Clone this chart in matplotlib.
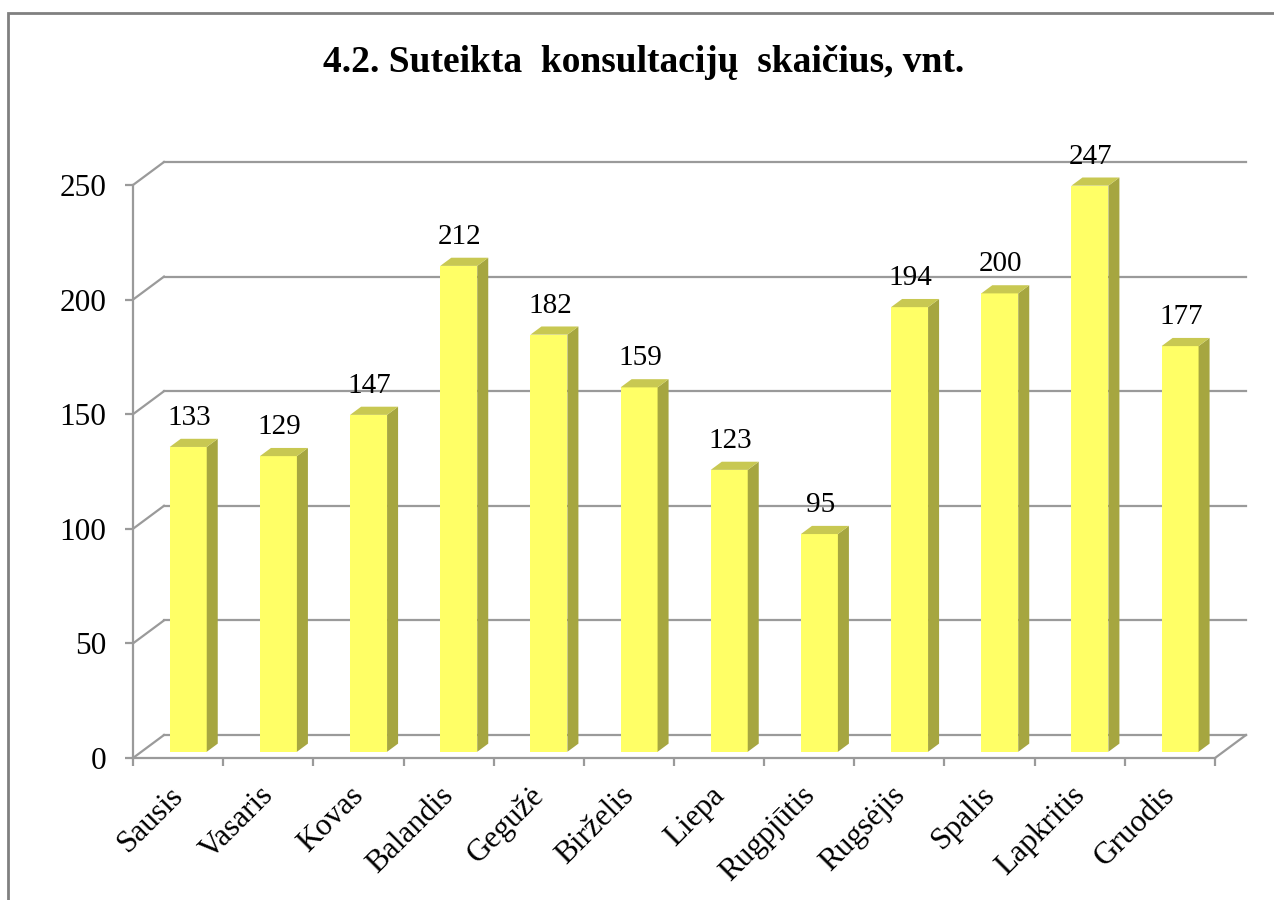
import matplotlib
matplotlib.use('Agg')
import matplotlib.pyplot as plt
from matplotlib.patches import Polygon, Rectangle

# ---- data ----
months = ["Sausis", "Vasaris", "Kovas", "Balandis", "Gegužė", "Birželis",
          "Liepa", "Rugpjūtis", "Rugsėjis", "Spalis", "Lapkritis", "Gruodis"]
values = [133, 129, 147, 212, 182, 159, 123, 95, 194, 200, 247, 177]
yticks = [0, 50, 100, 150, 200, 250]
title = "4.2. Suteikta  konsultacijų  skaičius, vnt."

# ---- styling / geometry ----
W, H = 1274, 900
SERIF = ['Liberation Serif', 'DejaVu Serif']
GRID = '#9a9a9a'
FRONT = '#FFFF66'
SIDE = '#A6A640'
TOP = '#C8C852'

n = len(months)
ymax = yticks[-1]
px_x = 1082 / n          # px per category
px_y = 573 / ymax        # px per value unit
DX = 31 / px_x           # depth offset of the whole chart (category units)
DY = 23 / px_y           # depth offset (value units)
f0 = 0.27                # bar front depth fraction
dd = 0.355               # bar depth fraction
bw = 0.41                # bar width

fig = plt.figure(figsize=(W / 100, H / 100), dpi=100)
fig.patch.set_facecolor('white')
ax = fig.add_axes([133 / W, (H - 758) / H, 1082 / W, 573 / H])
ax.set_xlim(0, n)
ax.set_ylim(0, ymax)
ax.set_facecolor('none')

for s in ['top', 'right']:
    ax.spines[s].set_visible(False)
for s in ['left', 'bottom']:
    ax.spines[s].set_color(GRID)
    ax.spines[s].set_linewidth(1.6)

ax.set_yticks(yticks)
ax.set_yticklabels([str(v) for v in yticks], fontsize=22.5, family=SERIF)
ax.set_xticks(range(n + 1))
ax.set_xticklabels([])
ax.tick_params(axis='both', direction='out', length=6, width=1.6, color=GRID)
ax.tick_params(axis='y', pad=13)

# back wall gridlines, left wall diagonals, floor side
for v in yticks:
    ax.plot([DX, n + DX], [v + DY, v + DY], color=GRID, lw=1.6, clip_on=False, zorder=1)
    ax.plot([0, DX], [v, v + DY], color=GRID, lw=1.6, clip_on=False, zorder=1)
ax.plot([n, n + DX], [0, DY], color=GRID, lw=1.6, clip_on=False, zorder=1)

# bars
base = f0 * DY
centers = [i + 0.5 + f0 * DX + 0.02 for i in range(n)]
ax.bar(centers, values, width=bw, bottom=base, color=FRONT, edgecolor='none',
       zorder=3, clip_on=False)
ddx, ddy = dd * DX, dd * DY
for c, v in zip(centers, values):
    xl, xr = c - bw / 2, c + bw / 2
    top = base + v
    side = Polygon([(xr, base), (xr + ddx, base + ddy), (xr + ddx, top + ddy), (xr, top)],
                   closed=True, facecolor=SIDE, edgecolor='none', zorder=3, clip_on=False)
    cap = Polygon([(xl, top), (xr, top), (xr + ddx, top + ddy), (xl + ddx, top + ddy)],
                  closed=True, facecolor=TOP, edgecolor='none', zorder=3, clip_on=False)
    ax.add_patch(side)
    ax.add_patch(cap)
    ax.text(c + 0.01, top + 22 / px_y, str(v), ha='center', va='baseline',
            fontsize=21, family=SERIF, zorder=4, clip_on=False)

# category labels
for i, m in enumerate(months):
    ax.text(i + 0.5 + 0.01, -33 / px_y, m, rotation=45, rotation_mode='anchor',
            ha='right', va='center', fontsize=22.5, family=SERIF, clip_on=False)

# title
fig.text(644 / W, 1 - 62 / H, title, ha='center', va='center', fontsize=27,
         fontweight='bold', family=SERIF)

# outer frame
fig.patches.append(Rectangle((8 / W, -0.1), 1.2, (H - 13) / H + 0.1,
                             transform=fig.transFigure, fill=False,
                             edgecolor='#808080', lw=2))

fig.savefig('out.png', dpi=100)
